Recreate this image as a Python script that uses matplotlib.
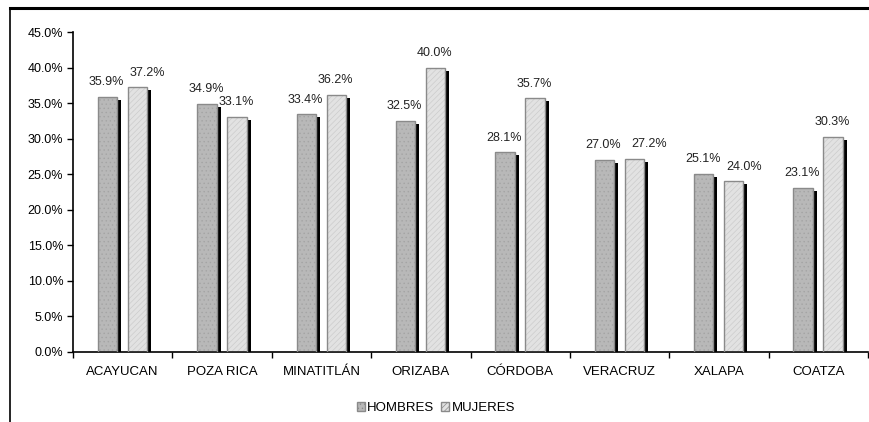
import matplotlib
matplotlib.use("Agg")
import matplotlib.pyplot as plt
import matplotlib.transforms as mtransforms
from matplotlib.lines import Line2D
from matplotlib.patches import Patch
import numpy as np

plt.rcParams['font.family'] = ['Liberation Sans', 'DejaVu Sans']
plt.rcParams['hatch.linewidth'] = 0.5

categories = ["ACAYUCAN", "POZA RICA", "MINATITLÁN", "ORIZABA", "CÓRDOBA",
              "VERACRUZ", "XALAPA", "COATZA"]
hombres = [35.9, 34.9, 33.4, 32.5, 28.1, 27.0, 25.1, 23.1]
mujeres = [37.2, 33.1, 36.2, 40.0, 35.7, 27.2, 24.0, 30.3]
yticks = [0, 5, 10, 15, 20, 25, 30, 35, 40, 45]
series_names = ["HOMBRES", "MUJERES"]

# label nudges (layout only, in points) to mimic Excel's overlap avoidance
nudge_mujeres = {0: 7.5, 5: 11.5, 6: 8.0}

fig = plt.figure(figsize=(8.69, 4.22), dpi=100)
ax = fig.add_axes([73/869, 70/422, 795/869, 320/422])

x = np.arange(len(categories))
w = 0.195
offs = [-0.153, 0.149]
faces = ["#b8b8b8", "#e2e2e2"]
hatches = ["....", "//////"]
hatchcol = ["#a4a4a4", "#cccccc"]

shadow = mtransforms.offset_copy(ax.transData, fig=fig, x=4, y=-3, units='dots')
for si, (vals, off, fc, h, hc) in enumerate(zip([hombres, mujeres], offs, faces, hatches, hatchcol)):
    ax.bar(x + off, vals, w, color='black', transform=shadow, zorder=1)
    ax.bar(x + off, vals, w, color=fc, edgecolor=hc, hatch=h, linewidth=0, zorder=2)
    ax.bar(x + off, vals, w, fill=False, edgecolor='#8a8a8a', linewidth=1.0, zorder=3)
    for i, (xi, v) in enumerate(zip(x + off, vals)):
        dx = nudge_mujeres.get(i, 0) if si == 1 else 0
        ax.annotate(f"{v:.1f}%", (xi - 0.01, v), xytext=(dx, 10.5),
                    textcoords='offset points', ha='center', va='center',
                    fontsize=9, color='#222222')

ax.set_xlim(-0.5, len(categories) - 0.5)
ax.set_ylim(0, 45)
ax.set_yticks(yticks)
ax.set_yticklabels([f"{t:.1f}%" for t in yticks], fontsize=9)
ax.set_xticks(np.arange(len(categories) + 1) - 0.5)
ax.set_xticklabels([])
ax.set_xticks(x, minor=True)
ax.set_xticklabels(categories, minor=True, fontsize=9.5)
ax.tick_params(axis='x', which='minor', length=0, pad=10)
ax.tick_params(axis='x', which='major', length=4, direction='out', width=1)
ax.tick_params(axis='y', length=4, direction='out', width=1, pad=3)
for s in ['top', 'right']:
    ax.spines[s].set_visible(False)
for s in ['left', 'bottom']:
    ax.spines[s].set_linewidth(1.2)

handles = [Patch(facecolor=faces[0], edgecolor='#8a8a8a', hatch=hatches[0]),
           Patch(facecolor=faces[1], edgecolor='#8a8a8a', hatch=hatches[1])]
fig.legend(handles, series_names, loc='center', bbox_to_anchor=(436/869, 1 - 408/422),
           ncol=2, frameon=False, fontsize=9.5, handlelength=0.6, handleheight=0.6,
           handletextpad=0.2, columnspacing=0.5)

# outer frame lines
fig.add_artist(Line2D([10/869, 10/869], [0, 1 - 8/422], transform=fig.transFigure,
                      color='black', linewidth=1.2))
fig.add_artist(Line2D([10/869, 1], [1 - 8/422, 1 - 8/422], transform=fig.transFigure,
                      color='black', linewidth=2.2))

fig.savefig("out.png", dpi=100)
